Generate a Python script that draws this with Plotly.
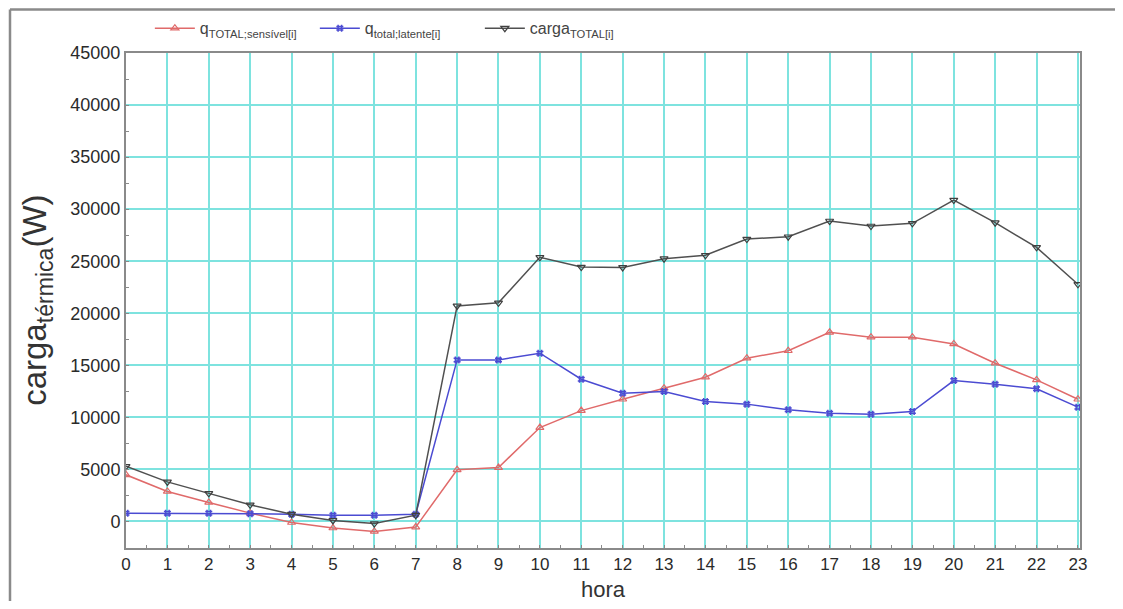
import plotly.graph_objects as go

hora = list(range(24))
q_sensivel = [4480, 2880, 1830, 800, -100, -630, -960, -540, 4960, 5180, 9020, 10650,
              11740, 12800, 13860, 15680, 16400, 18170, 17700, 17700, 17050, 15200, 13600, 11740]
q_latente = [800, 800, 800, 750, 700, 600, 600, 700, 15520, 15520, 16160, 13660,
             12320, 12480, 11520, 11270, 10720, 10400, 10310, 10560, 13530, 13190, 12740, 10980]
carga_total = [5300, 3800, 2700, 1600, 700, 100, -200, 600, 20700, 21000, 25370, 24440,
               24400, 25240, 25570, 27130, 27350, 28860, 28380, 28640, 30870, 28700, 26330, 22780]

x_ticks = list(range(24))
y_ticks = list(range(0, 45001, 5000))

names = ["q<sub>TOTAL;sensível[i]</sub>", "q<sub>total;latente[i]</sub>", "carga<sub>TOTAL[i]</sub>"]

fig = go.Figure()
fig.add_trace(go.Scatter(x=hora, y=q_sensivel, mode="lines+markers", name=names[0],
                         line=dict(color="#e06a6a", width=1.5),
                         marker=dict(symbol="triangle-up-open", size=7, color="#e06a6a", line=dict(width=1.2))))
fig.add_trace(go.Scatter(x=hora, y=q_latente, mode="lines+markers", name=names[1],
                         line=dict(color="#4b4bd2", width=1.5),
                         marker=dict(symbol="hash-open", size=7, color="#4b4bd2", line=dict(width=1.5))))
fig.add_trace(go.Scatter(x=hora, y=carga_total, mode="lines+markers", name=names[2],
                         line=dict(color="#505050", width=1.5),
                         marker=dict(symbol="triangle-down-open", size=7, color="#404040", line=dict(width=1.2))))

# outer image frame
fig.add_shape(type="line", xref="paper", yref="paper", x0=-0.1216, x1=1.05, y0=1.088, y1=1.088,
              line=dict(color="#8a8a8a", width=2.5))
fig.add_shape(type="line", xref="paper", yref="paper", x0=-0.1216, x1=-0.1216, y0=1.088, y1=-0.2,
              line=dict(color="#8a8a8a", width=2.5))

# axis titles
fig.add_annotation(text="carga<sub>térmica</sub>(W)", xref="paper", yref="paper",
                   x=-0.094, y=0.50, xanchor="center", yanchor="middle", textangle=-90,
                   showarrow=False, font=dict(size=33, color="#333333"))
fig.add_annotation(text="hora", xref="paper", yref="paper",
                   x=0.5, y=-0.084, xanchor="center", yanchor="middle",
                   showarrow=False, font=dict(size=22, color="#333333"))

fig.update_layout(
    width=1107, height=593,
    margin=dict(l=118, r=35, t=45, b=53, autoexpand=False),
    paper_bgcolor="white", plot_bgcolor="white",
    font=dict(family="Liberation Sans, Arial, sans-serif", color="#333333"),
    showlegend=True,
    legend=dict(orientation="h", x=0.025, y=1.050, xanchor="left", yanchor="middle",
                font=dict(size=16, color="#444444"), bgcolor="rgba(0,0,0,0)",
                entrywidth=110, entrywidthmode="pixels", itemwidth=40, tracegroupgap=0),
)
fig.update_xaxes(range=[0, 23.05], tickmode="array", tickvals=x_ticks, ticktext=[str(v) for v in x_ticks],
                 automargin=False,
                 showgrid=True, gridcolor="#7ee3df", gridwidth=1.5, zeroline=False,
                 showline=True, linecolor="#8a8a8a", linewidth=2, mirror=True,
                 ticks="inside", ticklen=3, tickcolor="#8a8a8a",
                 minor=dict(ticks="inside", ticklen=3, dtick=0.5, tickcolor="#8a8a8a", showgrid=False),
                 tickfont=dict(size=17, color="#2a2a2a"))
fig.update_yaxes(range=[-2550, 45000], tickmode="array", tickvals=y_ticks, ticktext=[str(v) for v in y_ticks],
                 automargin=False,
                 showgrid=True, gridcolor="#7ee3df", gridwidth=1.5, zeroline=False,
                 showline=True, linecolor="#8a8a8a", linewidth=2, mirror=True,
                 ticks="inside", ticklen=3, tickcolor="#8a8a8a",
                 minor=dict(ticks="inside", ticklen=3, dtick=2500, tickcolor="#8a8a8a", showgrid=False),
                 tickfont=dict(size=18, color="#2a2a2a"))

fig.write_html("out.html")
